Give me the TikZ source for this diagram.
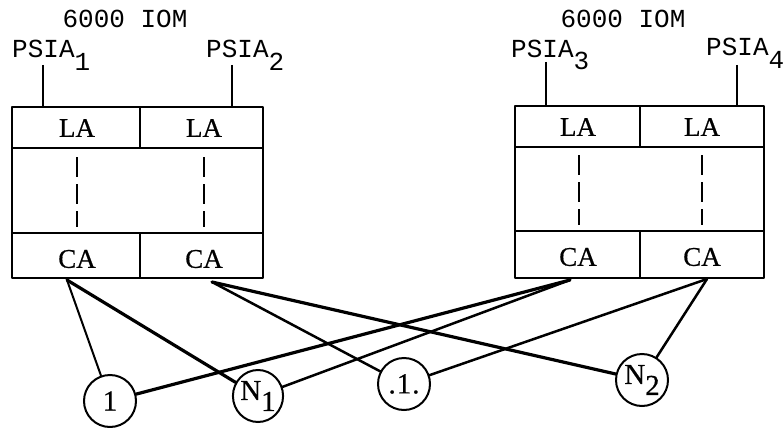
\documentclass[tikz,border=0pt]{standalone}
\usepackage{fontspec}
\setmainfont{Liberation Serif}[FakeBold=0.6]
\newfontfamily\tw{Liberation Mono}
\usetikzlibrary{shapes.geometric}
\tikzset{
  boxline/.style={line width=2.8pt, line join=round},
  dashln/.style={line width=2.2pt, dash pattern=on 20pt off 7pt},
  psialine/.style={line width=2.6pt},
  head/.style={font=\tw\fontsize{26}{30}\selectfont, inner sep=0pt, anchor=base},
  psia/.style={font=\tw\fontsize{26}{30}\selectfont, inner sep=0pt, anchor=base west},
  cell/.style={font=\fontsize{27}{30}\selectfont, inner sep=0pt},
  term/.style={ellipse, draw, line width=2pt, minimum width=52pt, minimum height=52pt,
    inner sep=0pt, font=\fontsize{29}{32}\selectfont},
  conn/.style={line width=2.5pt, line cap=round},
  thick conn/.style={line width=3.2pt, line cap=round},
  thin conn/.style={line width=2pt, line cap=round},
}
\begin{document}
\begin{tikzpicture}[x=1pt,y=-1pt]
\useasboundingbox (0,0) rectangle (784,428);

% ---- left IOM ----
\node[head] (h1) at (125,28) {6000 IOM};
\node[psia] (p1) at (12,58) {PSIA\raisebox{-13pt}{1}};
\node[psia] (p2) at (206,58) {PSIA\raisebox{-13pt}{2}};
\draw[boxline] (12,107) rectangle (263,278);
\draw[boxline] (12,148) -- (263,148);
\draw[boxline] (12,233) -- (263,233);
\draw[boxline] (140,107) -- (140,148);
\draw[boxline] (140,233) -- (140,278);
\node[cell] (la1) at (77,128) {LA};
\node[cell] (la2) at (204,128) {LA};
\node[cell] (ca1) at (77,259) {CA};
\node[cell] (ca2) at (204,259) {CA};
\draw[dashln] (77,157) -- (77,227);
\draw[dashln] (204,157) -- (204,227);
\coordinate (t1) at (43,65);
\coordinate (b1) at (43,107);
\coordinate (t2) at (232,65);
\coordinate (b2) at (232,107);
\draw[psialine] (t1) -- (b1);
\draw[psialine] (t2) -- (b2);

% ---- right IOM ----
\node[head] (h2) at (623,28) {6000 IOM};
\node[psia] (p3) at (511,57) {PSIA\raisebox{-13pt}{3}};
\node[psia] (p4) at (706,56) {PSIA\raisebox{-13pt}{4}};
\draw[boxline] (515,106) rectangle (764,278);
\draw[boxline] (515,147) -- (764,147);
\draw[boxline] (515,231) -- (764,231);
\draw[boxline] (640,106) -- (640,147);
\draw[boxline] (640,231) -- (640,278);
\node[cell] (la3) at (578,127) {LA};
\node[cell] (la4) at (702,127) {LA};
\node[cell] (ca3) at (578,257) {CA};
\node[cell] (ca4) at (702,257) {CA};
\draw[dashln] (579,155) -- (579,225);
\draw[dashln] (702,155) -- (702,225);
\coordinate (t3) at (546,62);
\coordinate (b3) at (546,106);
\coordinate (t4) at (737,65);
\coordinate (b4) at (737,106);
\draw[psialine] (t3) -- (b3);
\draw[psialine] (t4) -- (b4);

% ---- connection points ----
\coordinate (c1) at (67,280);
\coordinate (c2) at (212,282);
\coordinate (c3) at (570,280);
\coordinate (c4) at (707,279);

% ---- terminals ----
\node[term] (n1) at (110,401) {1};
\node[term, minimum width=49pt] (n2) at (258,396) {\raisebox{3pt}{N}\raisebox{-8pt}{1}};
\node[term] (n3) at (404,384) {.\kern1pt1\kern1pt.};
\node[term] (n4) at (642,380) {\raisebox{3pt}{N}\raisebox{-8pt}{2}};

% ---- connectors ----
\draw[thin conn] (c1) -- (n1);
\draw[thick conn] (c1) -- (n2);
\draw[conn] (c2) -- (n3);
\draw[thick conn] (c2) -- (n4);
\draw[thick conn] (c3) -- (n1);
\draw[conn] (c3) -- (n2);
\draw[conn] (c4) -- (n3);
\draw[conn] (c4) -- (n4);
\end{tikzpicture}
\end{document}
